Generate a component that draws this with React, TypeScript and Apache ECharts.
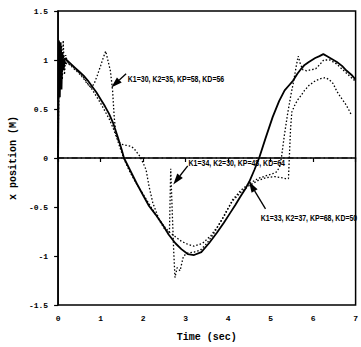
import React, { useEffect, useRef } from "react";
import * as echarts from "echarts";

// Solid curve: K1=33, K2=37, KP=68, KD=50
const timeSolid = [0, 0.02, 0.04, 0.06, 0.08, 0.1, 0.13, 0.16, 0.2, 0.3, 0.4, 0.5, 0.6, 0.7, 0.8, 0.9, 1.0, 1.1, 1.2, 1.3, 1.4, 1.5, 1.55, 1.7, 1.85, 2.0, 2.14, 2.3, 2.46, 2.6, 2.76, 2.9, 3.05, 3.2, 3.37, 3.55, 3.74, 3.9, 4.05, 4.17, 4.28, 4.4, 4.5, 4.62, 4.73, 4.88, 5.05, 5.2, 5.33, 5.43, 5.53, 5.63, 5.72, 5.8, 5.9, 6.05, 6.15, 6.24, 6.32, 6.4, 6.56, 6.68, 6.79, 6.9, 7.0];
const posSolid = [0.0, 1.2, 0.62, 1.18, 0.7, 1.08, 0.9, 1.02, 1.0, 0.96, 0.92, 0.88, 0.84, 0.79, 0.73, 0.67, 0.6, 0.53, 0.45, 0.35, 0.22, 0.08, 0.0, -0.13, -0.26, -0.38, -0.49, -0.58, -0.68, -0.78, -0.87, -0.93, -0.98, -0.99, -0.96, -0.87, -0.76, -0.66, -0.56, -0.48, -0.4, -0.32, -0.24, -0.12, 0.0, 0.2, 0.42, 0.58, 0.69, 0.74, 0.79, 0.86, 0.91, 0.95, 0.98, 1.02, 1.04, 1.06, 1.04, 1.02, 0.98, 0.94, 0.89, 0.85, 0.8];

// Dotted curve: K1=30, K2=35, KP=58, KD=56
const timeA = [0, 0.02, 0.05, 0.08, 0.1, 0.12, 0.15, 0.18, 0.22, 0.3, 0.4, 0.5, 0.6, 0.7, 0.78, 0.85, 0.92, 1.0, 1.06, 1.12, 1.17, 1.23, 1.28, 1.32, 1.36, 1.43, 1.5, 1.6, 1.7, 1.78, 1.85, 1.92, 2.0, 2.07, 2.14, 2.23, 2.37, 2.5, 2.6, 2.75, 2.9, 3.05, 3.2, 3.4, 3.6, 3.75, 3.9, 4.1, 4.3, 4.5, 4.7, 4.9, 5.05, 5.15, 5.22, 5.26, 5.32, 5.4, 5.48, 5.55, 5.6, 5.65, 5.7, 5.76, 5.85, 5.95, 6.06, 6.15, 6.25, 6.4, 6.55, 6.7, 6.85, 7.0];
const posA = [0, 1.1, 0.75, 1.15, 0.8, 1.2, 0.85, 1.05, 0.97, 0.94, 0.9, 0.86, 0.81, 0.75, 0.72, 0.76, 0.84, 0.94, 1.02, 1.09, 1.0, 0.89, 0.7, 0.42, 0.24, 0.16, 0.14, 0.13, 0.12, 0.1, 0.06, 0.02, -0.05, -0.12, -0.29, -0.46, -0.62, -0.7, -0.75, -0.8, -0.85, -0.88, -0.9, -0.87, -0.79, -0.7, -0.6, -0.43, -0.33, -0.26, -0.21, -0.18, -0.16, -0.14, -0.08, 0.02, 0.22, 0.45, 0.65, 0.8, 0.93, 1.04, 0.96, 0.9, 0.89, 0.9, 0.91, 0.95, 1.0, 1.0, 0.96, 0.9, 0.84, 0.78];

// Dotted curve: K1=34, K2=30, KP=48, KD=64
const timeB = [0, 0.02, 0.04, 0.07, 0.1, 0.13, 0.17, 0.22, 0.3, 0.4, 0.5, 0.6, 0.7, 0.8, 0.9, 1.0, 1.1, 1.2, 1.3, 1.4, 1.5, 1.6, 1.7, 1.8, 1.9, 2.0, 2.1, 2.2, 2.3, 2.4, 2.5, 2.58, 2.62, 2.65, 2.69, 2.72, 2.75, 2.8, 2.87, 2.95, 3.05, 3.2, 3.35, 3.5, 3.65, 3.8, 3.95, 4.1, 4.3, 4.5, 4.7, 4.9, 5.1, 5.25, 5.35, 5.42, 5.44, 5.47, 5.5, 5.58, 5.65, 5.72, 5.8, 5.9, 6.06, 6.18, 6.29, 6.38, 6.47, 6.56, 6.65, 6.75, 6.83, 6.9];
const posB = [0, 1.05, 0.8, 1.12, 0.88, 1.05, 0.95, 0.98, 0.95, 0.91, 0.87, 0.82, 0.76, 0.7, 0.63, 0.56, 0.48, 0.4, 0.3, 0.18, 0.05, -0.06, -0.15, -0.23, -0.3, -0.37, -0.44, -0.51, -0.58, -0.65, -0.72, -0.76, -0.75, -0.11, -0.6, -0.95, -1.22, -1.12, -1.15, -1.0, -0.97, -0.96, -0.94, -0.87, -0.78, -0.67, -0.55, -0.44, -0.35, -0.28, -0.23, -0.2, -0.19, -0.2, -0.21, -0.21, 0.0, 0.3, 0.47, 0.55, 0.6, 0.64, 0.69, 0.74, 0.79, 0.81, 0.82, 0.8, 0.76, 0.68, 0.62, 0.56, 0.5, 0.44];

// Zero reference line
const zeroLineTime = [0, 7];
const zeroLineValue = [0, 0];

// Annotations (data coordinates)
const annotationTexts = ["K1=30, K2=35, KP=58, KD=56", "K1=34, K2=30, KP=48, KD=64", "K1=33, K2=37, KP=68, KD=50"];
const annotationTextAt = [[1.64, 0.8], [3.07, -0.05], [4.77, -0.62]];
const arrowTail = [[1.6, 0.86], [3.05, -0.08], [4.88, -0.52]];
const arrowTip = [[1.25, 0.72], [2.71, -0.27], [4.49, -0.24]];

const xMin = 0, xMax = 7, xStep = 1;
const yMin = -1.5, yMax = 1.5, yStep = 0.5;

const zip = (t: number[], v: number[]) => t.map((x, i) => [x, v[i]]);

export default function App() {
  const ref = useRef<HTMLDivElement>(null);
  useEffect(() => {
    document.body.style.margin = "0";
    const chart = echarts.init(ref.current!, undefined, { renderer: "svg" });
    const mono = "'Liberation Mono', 'DejaVu Sans Mono', monospace";
    const dotted = { color: "#000", width: 1.3, type: [1.5, 2] as any, cap: "butt" as any };
    chart.setOption({
      animation: false,
      backgroundColor: "#fff",
      grid: { left: 49, right: 5, top: 11, bottom: 36, show: true, borderColor: "#000", borderWidth: 1.5 },
      xAxis: {
        type: "value", min: xMin, max: xMax, interval: xStep,
        name: "Time (sec)", nameLocation: "middle", nameGap: 27,
        nameTextStyle: { fontFamily: mono, fontSize: 10, fontWeight: "bold", color: "#000" },
        axisLine: { lineStyle: { color: "#000", width: 1.5 } },
        axisTick: { show: true, length: 4, lineStyle: { color: "#000", width: 1.2 } },
        axisLabel: { fontFamily: mono, fontSize: 8, fontWeight: "bold", color: "#000", margin: 9 },
        splitLine: { show: false },
      },
      yAxis: {
        type: "value", min: yMin, max: yMax, interval: yStep,
        name: "x position (M)", nameLocation: "middle", nameGap: 37,
        nameTextStyle: { fontFamily: mono, fontSize: 10, fontWeight: "bold", color: "#000" },
        axisLine: { show: true, lineStyle: { color: "#000", width: 1.5 } },
        axisTick: { show: true, length: 4, lineStyle: { color: "#000", width: 1.2 } },
        axisLabel: { fontFamily: mono, fontSize: 8, fontWeight: "bold", color: "#000", margin: 10 },
        splitLine: { show: false },
      },
      series: [
        {
          type: "line", data: zip(zeroLineTime, zeroLineValue), showSymbol: false, symbol: "none", silent: true,
          lineStyle: { color: "#000", width: 1, type: [6, 3, 1.5, 3] as any, cap: "butt" as any },
        },
        {
          type: "line", data: zip(timeSolid, posSolid), showSymbol: false, symbol: "none",
          lineStyle: { color: "#000", width: 1.8 },
        },
        { type: "line", data: zip(timeA, posA), showSymbol: false, symbol: "none", lineStyle: dotted },
        { type: "line", data: zip(timeB, posB), showSymbol: false, symbol: "none", lineStyle: dotted },
      ],
    });

    const textFont = "bold 8.5px 'Liberation Sans', Arial, sans-serif";
    const elements: any[] = [];
    annotationTexts.forEach((txt, i) => {
      const p = chart.convertToPixel({ gridIndex: 0 }, annotationTextAt[i]) as number[];
      const a = chart.convertToPixel({ gridIndex: 0 }, arrowTail[i]) as number[];
      const b = chart.convertToPixel({ gridIndex: 0 }, arrowTip[i]) as number[];
      const dx = b[0] - a[0], dy = b[1] - a[1];
      const len = Math.hypot(dx, dy);
      const ux = dx / len, uy = dy / len;
      const L = 11, W = 7;
      const bx = b[0] - ux * L, by = b[1] - uy * L;
      elements.push({
        type: "text", x: p[0], y: p[1], scaleX: 0.82,
        style: { text: txt, fill: "#000", font: textFont, verticalAlign: "middle", align: "left" },
      });
      elements.push({
        type: "line", shape: { x1: a[0], y1: a[1], x2: bx, y2: by },
        style: { stroke: "#000", lineWidth: 1.3 },
      });
      elements.push({
        type: "polygon",
        shape: { points: [[b[0], b[1]], [bx - uy * W / 2, by + ux * W / 2], [bx + uy * W / 2, by - ux * W / 2]] },
        style: { fill: "#000" },
      });
    });
    chart.setOption({ graphic: elements });
    return () => chart.dispose();
  }, []);
  return <div ref={ref} style={{ width: 361, height: 347 }} />;
}
